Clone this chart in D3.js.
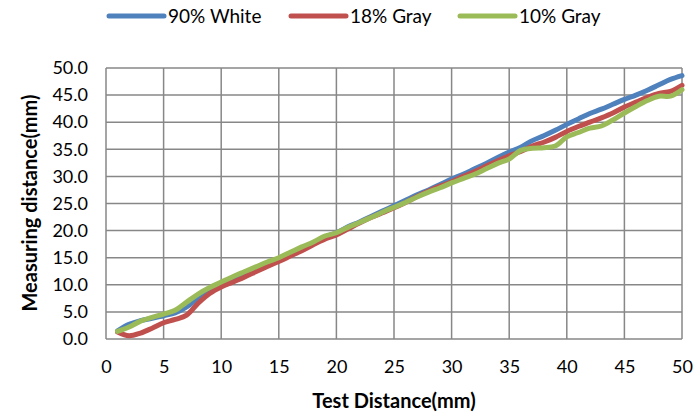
<!DOCTYPE html>
<html><head><meta charset="utf-8">
<script src="https://cdn.jsdelivr.net/npm/d3@7"></script>
<style>body{margin:0;background:#fff}svg{display:block}text{font-family:Lato,"Open Sans",sans-serif;fill:#000}</style>
</head><body>
<script>
const xValues = d3.range(1, 51);
const seriesNames = ["90% White", "18% Gray", "10% Gray"];
const seriesColors = ["#4F81BD", "#C0504D", "#9BBB59"];
const white90 = [1.5,2.7,3.4,3.8,4.3,4.8,5.9,7.6,8.8,9.9,10.8,11.8,12.9,13.9,14.7,15.7,16.7,17.7,18.8,19.6,20.7,21.6,22.6,23.6,24.6,25.6,26.6,27.5,28.5,29.5,30.4,31.4,32.4,33.5,34.5,35.4,36.6,37.5,38.5,39.6,40.6,41.6,42.4,43.3,44.2,45.0,45.9,46.9,47.9,48.6];
const gray18 = [1.3,0.6,1.1,2.0,3.0,3.6,4.4,6.6,8.4,9.6,10.5,11.4,12.4,13.4,14.3,15.3,16.3,17.4,18.4,19.2,20.3,21.4,22.4,23.3,24.2,25.2,26.3,27.3,28.2,29.0,30.0,30.9,31.9,32.9,33.8,34.6,35.6,36.3,37.2,38.3,39.2,40.0,40.8,41.7,42.8,43.7,44.6,45.3,45.7,46.8];
const gray10 = [1.4,2.2,3.3,4.0,4.6,5.3,6.8,8.3,9.5,10.5,11.5,12.4,13.3,14.2,15.0,16.0,17.0,17.9,19.0,19.6,20.6,21.5,22.4,23.4,24.3,25.2,26.2,27.1,27.9,28.8,29.6,30.4,31.4,32.4,33.2,34.8,35.2,35.3,35.6,37.3,38.1,38.9,39.3,40.4,41.7,42.9,44.0,44.8,44.8,46.0];
const xTicks = [0,5,10,15,20,25,30,35,40,45,50];
const yTicks = [0,5,10,15,20,25,30,35,40,45,50];
const xTitle = "Test Distance(mm)";
const yTitle = "Measuring distance(mm)";

const W = 698, H = 414;
const svg = d3.select("body").append("svg").attr("width", W).attr("height", H);
const x = d3.scaleLinear().domain([0, 50]).range([106, 682]);
const y = d3.scaleLinear().domain([0, 50]).range([339, 68]);
const grid = "#878787";

// gridlines
svg.append("g").selectAll("line").data(yTicks).join("line")
  .attr("x1", x(0)).attr("x2", x(50)).attr("y1", d => y(d)).attr("y2", d => y(d))
  .attr("stroke", grid).attr("stroke-width", 1.5);
svg.append("g").selectAll("line").data(xTicks).join("line")
  .attr("y1", y(0)).attr("y2", y(50)).attr("x1", d => x(d)).attr("x2", d => x(d))
  .attr("stroke", grid).attr("stroke-width", 1.5);

// axes labels via d3 axes
const xAxis = svg.append("g").attr("transform", `translate(0,${y(0)})`)
  .call(d3.axisBottom(x).tickValues(xTicks).tickSize(0).tickPadding(21).tickFormat(d3.format("d")));
xAxis.select(".domain").remove();
xAxis.selectAll("text").attr("font-size", 18).style("font-family", "Lato");
const yAxis = svg.append("g").attr("transform", `translate(${x(0)},0)`)
  .call(d3.axisLeft(y).tickValues(yTicks).tickSize(0).tickPadding(18).tickFormat(d3.format(".1f")));
yAxis.select(".domain").remove();
yAxis.selectAll("text").attr("font-size", 18).style("font-family", "Lato");

// lines
const allSeries = [white90, gray18, gray10];
const line = d3.line().x((d, i) => x(xValues[i])).y(d => y(d)).curve(d3.curveCatmullRom.alpha(0.5));
svg.append("g").selectAll("path").data(allSeries).join("path")
  .attr("d", d => line(d)).attr("fill", "none")
  .attr("stroke", (d, i) => seriesColors[i]).attr("stroke-width", 5)
  .attr("stroke-linecap", "round").attr("stroke-linejoin", "round");

// titles
svg.append("text").attr("x", 394).attr("y", 408).attr("text-anchor", "middle")
  .attr("font-size", 20).attr("font-weight", "bold").text(xTitle);
svg.append("text").attr("transform", "translate(37,203) rotate(-90)").attr("text-anchor", "middle")
  .attr("font-size", 20).attr("font-weight", "bold").text(yTitle);

// legend
const legX = [109, 291, 460];
const leg = svg.append("g").selectAll("g").data(seriesNames).join("g")
  .attr("transform", (d, i) => `translate(${legX[i]},16)`);
leg.append("line").attr("x1", 0).attr("x2", 55).attr("y1", 0).attr("y2", 0)
  .attr("stroke", (d, i) => seriesColors[i]).attr("stroke-width", 5).attr("stroke-linecap", "round");
leg.append("text").attr("x", 59).attr("y", 7).attr("font-size", 19).text(d => d);
</script>
</body></html>
